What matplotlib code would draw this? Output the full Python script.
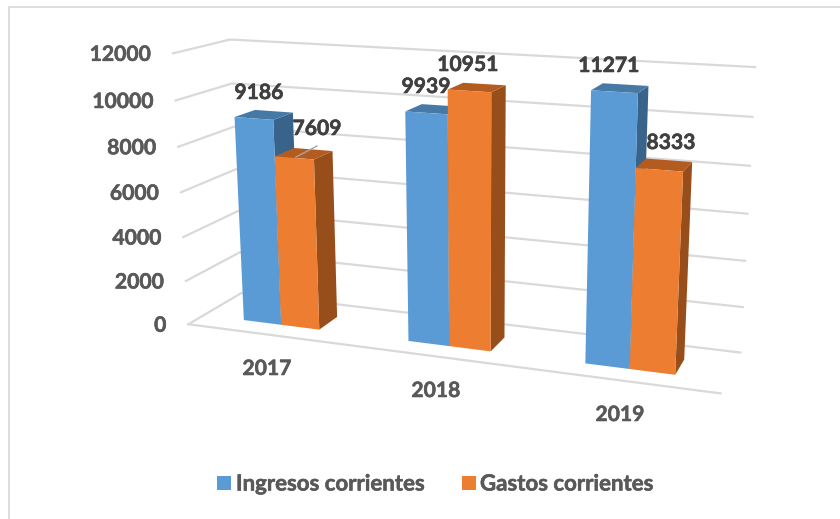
import numpy as np
import matplotlib
matplotlib.use('Agg')
import matplotlib.pyplot as plt
import matplotlib.patheffects as pe
from matplotlib.patches import Polygon, Rectangle

years = ['2017', '2018', '2019']
ingresos = [9186, 9939, 11271]
gastos = [7609, 10951, 8333]
y_ticks = [0, 2000, 4000, 6000, 8000, 10000, 12000]
y_max = 12000

BLUE = ('#5B9BD5', '#4679A6', '#38648C')
ORANGE = ('#ED7D31', '#B45B20', '#974E1B')
GRID = '#D9D9D9'

# esquinas de la caja 3D en pixeles: (u, v, w) -> (x, y)
# u = eje categorias, v = profundidad, w = altura
corners = [
    ((0, 1, 0), (242, 293)), ((0, 1, 1), (230, 39)),
    ((1, 1, 0), (740, 353)), ((1, 1, 1), (755, 67)),
    ((0, 0, 0), (188, 324)), ((0, 0, 1), (173, 54)),
    ((1, 0, 0), (721, 393)),
]

def fit_projection(pairs):
    rows, rhs = [], []
    for (u, v, w), (x, y) in pairs:
        rows.append([u, v, w, 1, 0, 0, 0, 0, -x*u, -x*v, -x*w])
        rhs.append(x)
        rows.append([0, 0, 0, 0, u, v, w, 1, -y*u, -y*v, -y*w])
        rhs.append(y)
    sol = np.linalg.lstsq(np.array(rows, float), np.array(rhs, float), rcond=None)[0]
    return np.append(sol, 1).reshape(3, 4)

P = fit_projection(corners)

def project(u, v, w):
    p = P @ np.array([u, v, w, 1.0])
    return p[0] / p[2], p[1] / p[2]

def draw_bar(ax, u0, u1, v0, v1, value, colors):
    h = value / y_max
    front = [project(u0, v0, 0), project(u1, v0, 0), project(u1, v0, h), project(u0, v0, h)]
    top = [project(u0, v0, h), project(u1, v0, h), project(u1, v1, h), project(u0, v1, h)]
    side = [project(u1, v0, 0), project(u1, v1, 0), project(u1, v1, h), project(u1, v0, h)]
    ax.add_patch(Polygon(side, fc=colors[2], ec='none', zorder=3))
    ax.add_patch(Polygon(top, fc=colors[1], ec='none', zorder=3))
    ax.add_patch(Polygon(front, fc=colors[0], ec='none', zorder=3))

def label(ax, x, y, s, color, size=15.2, ha='center'):
    ax.text(x, y, s, ha=ha, va='center', fontsize=size, fontweight='bold', color=color, zorder=5,
            path_effects=[pe.withStroke(linewidth=0.4, foreground=color)])

plt.rcParams['font.family'] = ['Lato', 'DejaVu Sans']
fig = plt.figure(figsize=(8.4, 5.19), dpi=100)
ax = fig.add_axes([0, 0, 1, 1])
ax.set_xlim(0, 840)
ax.set_ylim(519, 0)
ax.axis('off')

# borde del grafico
ax.plot([9, 9, 840], [519, 6.5, 6.5], color='#DDDDDD', lw=1.4)

# lineas de la caja
for t in y_ticks:
    w = t / y_max
    pts = [project(0, 0, w), project(0, 1, w), project(1, 1, w)]
    ax.plot([p[0] for p in pts], [p[1] for p in pts], color=GRID, lw=1.6, zorder=1)
    x, y = project(0, 0, w)
    label(ax, x - 22, y + 1.5, str(t), '#595959', ha='right')
a, b = project(0, 0, 0), project(1, 0, 0)
ax.plot([a[0], b[0]], [a[1], b[1]], color=GRID, lw=1.6, zorder=1)

# barras
bar_w = 0.079
v_front, v_back = 0.28, 0.66
centers = [0.165, 0.502, 0.834]
for i in range(len(years)):
    c = centers[i]
    draw_bar(ax, c - bar_w, c, v_front, v_back, ingresos[i], BLUE)
    draw_bar(ax, c, c + bar_w, v_front, v_back, gastos[i], ORANGE)

# etiquetas de datos
label_pos_a = [(259, 93), (426, 87), (609, 66)]
label_pos_b = [(317, 129), (468, 65), (671, 143)]
for i in range(len(years)):
    label(ax, *label_pos_a[i], str(ingresos[i]), '#404040')
    label(ax, *label_pos_b[i], str(gastos[i]), '#404040')
ax.plot([296, 317], [157, 146], color='#A6A6A6', lw=1, zorder=5)

# etiquetas de categoria
cat_pos = [(267, 369), (436, 391), (620, 415)]
for (x, y), year in zip(cat_pos, years):
    label(ax, x, y, year, '#595959')

# leyenda
ax.add_patch(Rectangle((217, 476), 13.5, 14, fc=BLUE[0], ec='none'))
label(ax, 236, 484, 'Ingresos corrientes', '#595959', size=16, ha='left')
ax.add_patch(Rectangle((462, 476), 13.5, 14, fc=ORANGE[0], ec='none'))
label(ax, 480, 484, 'Gastos corrientes', '#595959', size=16, ha='left')

fig.savefig('out.png', dpi=100)
